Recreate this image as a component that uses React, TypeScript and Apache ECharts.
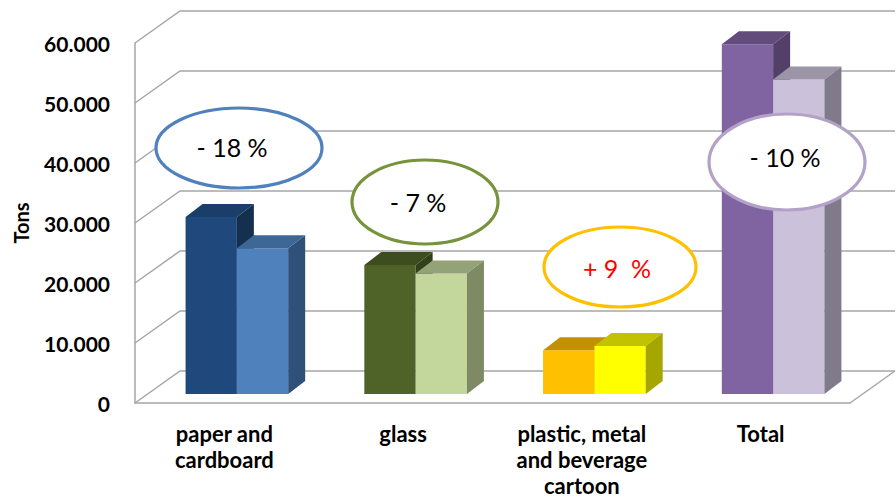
import React, { useEffect, useRef } from "react";
import * as echarts from "echarts";

const categories = ["paper and\ncardboard", "glass", "plastic, metal\nand beverage\ncartoon", "Total"];
const valuesBefore = [29500, 21500, 7300, 58300];
const valuesAfter = [24300, 20100, 8000, 52400];
const changeLabels = ["- 18 %", "- 7 %", "+ 9  %", "- 10 %"];
const yTicks = [0, 10000, 20000, 30000, 40000, 50000, 60000];

// [front, top, side] for the darker (first) and lighter (second) bar of each category
const barColors = [
  [["#1F497D", "#1A3D69", "#15304F"], ["#4F81BD", "#3D6896", "#2F5079"]],
  [["#4F6228", "#3E4D1F", "#33401A"], ["#C3D69B", "#93A277", "#7E8A63"]],
  [["#FFC000", "#C29100", "#A67C00"], ["#FFFF00", "#C2C200", "#A6A600"]],
  [["#8064A2", "#624C7C", "#524068"], ["#CCC1DA", "#9C94A7", "#807A8A"]],
];

const ellipses = [
  { cx: 239, cy: 148, rx: 83, ry: 40, stroke: "#4F81BD", tx: 232, ty: 147, color: "#000" },
  { cx: 425, cy: 202, rx: 73, ry: 42, stroke: "#77933C", tx: 418, ty: 202, color: "#000" },
  { cx: 620, cy: 267, rx: 76, ry: 40, stroke: "#FFC000", tx: 617, ty: 268, color: "#FF0000" },
  { cx: 787, cy: 162, rx: 78, ry: 48, stroke: "#B3A2C7", tx: 785, ty: 157, color: "#000" },
];

const FONT = "Lato, 'Open Sans', sans-serif";
const GRID_COLOR = "#A6A6A6";

export default function App() {
  const ref = useRef<HTMLDivElement>(null);

  useEffect(() => {
    if (!ref.current) return;
    const chart = echarts.init(ref.current, null, { renderer: "svg" });
    const DX = 45, DY = -32; // wall depth
    const BX = 12.5, BY = -9; // bar front depth
    const BDX = 17, BDY = -13; // bar depth

    const wallSeries: any = {
      type: "custom",
      silent: true,
      z: 1,
      data: yTicks.map((v) => [0, v]),
      renderItem: (params: any, api: any) => {
        const cs = params.coordSys;
        const v = api.value(1);
        const y = api.coord([0, v])[1];
        const left = cs.x;
        const right = cs.x + cs.width;
        const children: any[] = [
          {
            type: "polyline",
            shape: { points: [[left, y], [left + DX, y + DY], [right + DX, y + DY]] },
            style: { stroke: GRID_COLOR, lineWidth: 1.5, fill: null },
          },
        ];
        if (v === 0) {
          children.push({
            type: "line",
            shape: { x1: right, y1: y, x2: right + DX, y2: y + DY },
            style: { stroke: GRID_COLOR, lineWidth: 1.5 },
          });
        }
        return { type: "group", children };
      },
    };

    const barSeries = (name: string, vals: number[], idx: number): any => ({
      type: "custom",
      name,
      z: 2 + idx,
      data: vals.map((v, i) => [i, v]),
      renderItem: (params: any, api: any) => {
        const i = api.value(0);
        const v = api.value(1);
        const p0 = api.coord([i, 0]);
        const cx = p0[0];
        const y0 = p0[1];
        const y1 = api.coord([i, v])[1];
        const band = api.size([1, 0])[0];
        const w = band * 0.287;
        const xl = idx === 0 ? cx + BX - w : cx + BX;
        const xr = xl + w;
        const yb = y0 + BY;
        const yt = y1 + BY;
        const c = barColors[i][idx];
        return {
          type: "group",
          children: [
            { type: "rect", shape: { x: xl, y: yt, width: w, height: yb - yt }, style: { fill: c[0] } },
            {
              type: "polygon",
              shape: { points: [[xl, yt], [xr, yt], [xr + BDX, yt + BDY], [xl + BDX, yt + BDY]] },
              style: { fill: c[1] },
            },
            {
              type: "polygon",
              shape: { points: [[xr, yt], [xr + BDX, yt + BDY], [xr + BDX, yb + BDY], [xr, yb]] },
              style: { fill: c[2] },
            },
          ],
        };
      },
    });

    const graphics: any[] = [];
    ellipses.forEach((e, i) => {
      graphics.push({
        type: "ellipse",
        z: 100,
        shape: { cx: e.cx, cy: e.cy, rx: e.rx, ry: e.ry },
        style: { fill: "#FFFFFF", stroke: e.stroke, lineWidth: 3.2 },
      });
      graphics.push({
        type: "text",
        z: 101,
        x: e.tx,
        y: e.ty,
        style: {
          text: changeLabels[i],
          fill: e.color,
          fontSize: 25,
          fontFamily: FONT,
          align: "center",
          verticalAlign: "middle",
          textAlign: "center",
          textVerticalAlign: "middle",
        },
      });
    });

    chart.setOption({
      animation: false,
      backgroundColor: "#FFFFFF",
      grid: { left: 135, right: 46, top: 43, bottom: 97, containLabel: false, outerBoundsMode: "none" },
      xAxis: {
        type: "category",
        data: categories,
        boundaryGap: true,
        axisLine: { show: true, lineStyle: { color: GRID_COLOR, width: 1.5 } },
        axisTick: { show: false },
        axisLabel: {
          interval: 0,
          color: "#000",
          fontFamily: FONT,
          fontWeight: "bold",
          fontSize: 22,
          lineHeight: 26,
          margin: 17,
        },
        splitLine: { show: false },
      },
      yAxis: {
        type: "value",
        min: 0,
        max: 60000,
        interval: 10000,
        name: "Tons",
        nameLocation: "middle",
        nameGap: 104,
        nameRotate: 90,
        nameTextStyle: { color: "#000", fontFamily: FONT, fontWeight: "bold", fontSize: 20 },
        axisLine: { show: true, lineStyle: { color: GRID_COLOR, width: 1.5 } },
        axisTick: { show: false },
        splitLine: { show: false },
        axisLabel: {
          color: "#000",
          fontFamily: FONT,
          fontWeight: "bold",
          fontSize: 21,
          margin: 25,
          formatter: (v: number) => (v === 0 ? "0" : `${Math.round(v / 1000)}.000`),
        },
      },
      series: [wallSeries, barSeries("Before", valuesBefore, 0), barSeries("After", valuesAfter, 1)],
      graphic: graphics,
    });

    return () => chart.dispose();
  }, []);

  return (
    <div
      ref={ref}
      style={{ position: "fixed", left: 0, top: 0, width: 896, height: 500, background: "#fff" }}
    />
  );
}
